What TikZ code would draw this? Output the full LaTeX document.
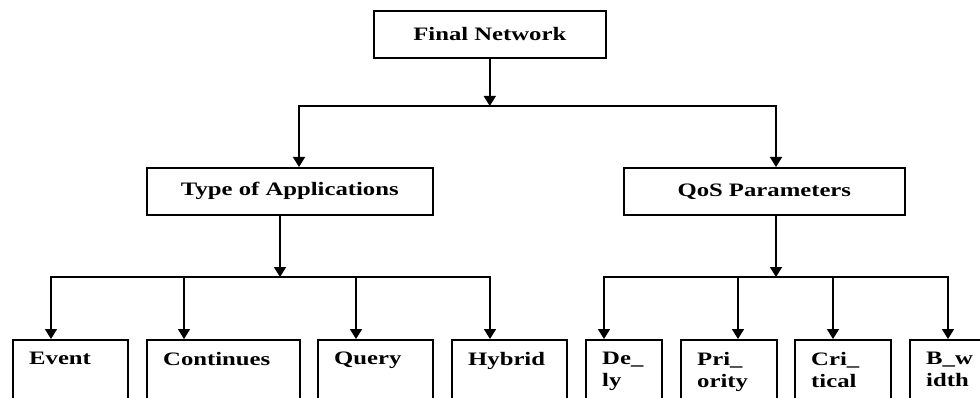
\documentclass[tikz,border=0pt]{standalone}
\usepackage{fontspec}
\setmainfont{Liberation Serif}[FakeStretch=1.3]
\usetikzlibrary{arrows.meta}
\tikzset{
  box/.style={draw,line width=1.6pt,rectangle,inner sep=0pt,anchor=north west,
    font=\fontsize{19}{22}\selectfont\bfseries},
  boxtext/.style={font=\fontsize{19}{22}\selectfont\bfseries,align=left,
    inner sep=0pt,anchor=north west},
  conn/.style={line width=1.6pt,-{Triangle[width=12pt,length=10pt]}},
  bus/.style={line width=1.6pt,line cap=rect},
}
\begin{document}
\begin{tikzpicture}[x=1pt,y=-1pt]
  \useasboundingbox (0,0) rectangle (980,398);
  \clip (0,0) rectangle (980,398);

  \node[box,minimum width=232pt,minimum height=47pt] (fn) at (373,10) {Final Network};
  \node[box,minimum width=286pt,minimum height=47pt] (ta) at (146,167) {Type of Applications};
  \node[box,minimum width=281pt,minimum height=47pt] (qp) at (623,167) {QoS Parameters};

  \coordinate (b1l) at (299,106);
  \coordinate (b1r) at (776,106);
  \draw[conn] (fn.south) -- (fn.south |- b1l);
  \draw[bus] (b1l) -- (b1r);
  \draw[conn] (b1l) -- (b1l |- ta.north);
  \draw[conn] (b1r) -- (b1r |- qp.north);

  \coordinate (t2) at (280,277);
  \coordinate (q2) at (776,277);
  \draw[conn] (t2 |- ta.south) -- (t2);
  \draw[conn] (q2 |- qp.south) -- (q2);

  % bottom row: name/left/width/arrow/text
  \foreach \nm/\lx/\boxw/\ax/\txt in {ev/12/115/51/Event, co/146/153/184/Continues,
      qu/317/115/356/Query, hy/451/115/490/Hybrid, de/585/76/604/{De\_\\ly},
      pr/680/96/738/{Pri\_\\ority}, cr/794/96/833/{Cri\_\\tical}, bw/909/75/948/{B\_w\\idth}}
  {
    \node[box,minimum width=\boxw pt,minimum height=90pt] (\nm) at (\lx,339) {};
    \node[boxtext] (\nm-t) at ([xshift=17pt,yshift=-13pt]\nm.north west) {\txt};
    \coordinate (\nm-in) at (\ax,277);
    \draw[conn] (\nm-in) -- (\nm-in |- \nm.north);
  }
  \draw[bus] (ev-in) -- (hy-in);
  \draw[bus] (de-in) -- (bw-in);
\end{tikzpicture}
\end{document}
